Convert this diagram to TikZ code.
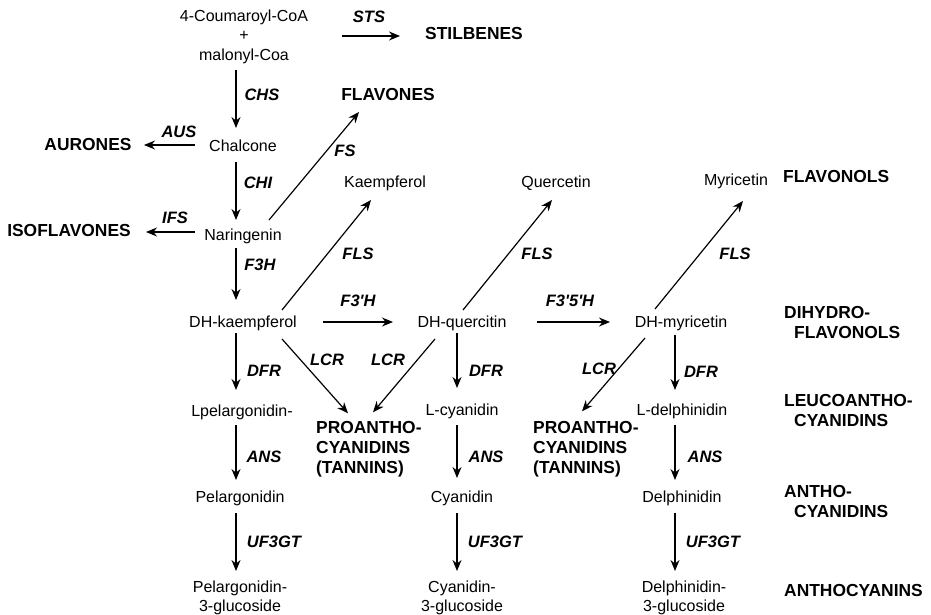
\documentclass[tikz,border=0pt]{standalone}
\usepackage{fontspec}
\setmainfont{Liberation Sans}
\usetikzlibrary{arrows.meta,calc}
\begin{document}
\begin{tikzpicture}[x=1pt,y=-1pt,
  txt/.style={font=\fontsize{16}{19.5}\selectfont, inner sep=0pt, text height=11.5pt, text depth=0pt},
  txtm/.style={font=\fontsize{16}{19.5}\selectfont, inner sep=0pt, align=center},
  cat/.style={font=\fontsize{17.4}{20}\selectfont\bfseries, inner sep=0pt, text height=12.5pt, text depth=0pt},
  catm/.style={font=\fontsize{17.4}{20}\selectfont\bfseries, inner sep=0pt, align=left, anchor=west},
  enz/.style={font=\fontsize{16.5}{19}\selectfont\bfseries\itshape, inner sep=0pt, text height=11.8pt, text depth=0pt},
  arr/.style={-{Stealth[length=11pt,width=9pt]}, line width=1.2pt}]
\useasboundingbox (0,0) rectangle (931,615);
% substances
\node[txtm] (coum) at (244,36.5) {4-Coumaroyl-CoA\\+\\malonyl-Coa};
\node[txt] (chal) at (243,146) {Chalcone};
\node[txt] (nar) at (243,235) {Naringenin};
\node[txt] (kae) at (385,182) {Kaempferol};
\node[txt] (que) at (556,182) {Quercetin};
\node[txt] (myr) at (736,180) {Myricetin};
\node[txt] (dhk) at (243,322) {DH-kaempferol};
\node[txt] (dhq) at (462,322) {DH-quercitin};
\node[txt] (dhm) at (681,322) {DH-myricetin};
\node[txt] (lpel) at (242,411) {Lpelargonidin-};
\node[txt] (lcy) at (462,410) {L-cyanidin};
\node[txt] (ldel) at (682,410) {L-delphinidin};
\node[txt] (pel) at (240,497) {Pelargonidin};
\node[txt] (cya) at (462,497) {Cyanidin};
\node[txt] (del) at (682,497) {Delphinidin};
\node[txtm] (pelg) at (240,598) {Pelargonidin-\\3-glucoside};
\node[txtm] (cyag) at (462,598) {Cyanidin-\\3-glucoside};
\node[txtm] (delg) at (684,598) {Delphinidin-\\3-glucoside};
% classes
\node[cat] (stil) at (474,33) {STILBENES};
\node[cat] (flav) at (388,94) {FLAVONES};
\node[cat] (aur) at (88,144) {AURONES};
\node[cat] (iso) at (69,230) {ISOFLAVONES};
\node[cat, anchor=west] (flavonols) at (783,176) {FLAVONOLS};
\node[catm] (dihydro) at (784,323) {DIHYDRO-\\\hspace*{10pt}FLAVONOLS};
\node[catm] (leuco) at (784,411) {LEUCOANTHO-\\\hspace*{10pt}CYANIDINS};
\node[catm] (antho) at (784,502) {ANTHO-\\\hspace*{10pt}CYANIDINS};
\node[cat, anchor=west] (anthocy) at (784,590) {ANTHOCYANINS};
\node[catm] (pro1) at (316,449.3) {PROANTHO-\\CYANIDINS\\(TANNINS)};
\node[catm] (pro2) at (533,449.3) {PROANTHO-\\CYANIDINS\\(TANNINS)};
% enzymes
\node[enz] (sts) at (369,17) {STS};
\node[enz] (chs) at (262,95) {CHS};
\node[enz] (aus) at (179,132) {AUS};
\node[enz] (chi) at (258,183) {CHI};
\node[enz] (ifs) at (175,218) {IFS};
\node[enz] (f3h) at (260,265) {F3H};
\node[enz] (fs) at (345,151) {FS};
\node[enz] (fls1) at (358,254) {FLS};
\node[enz] (fls2) at (537,254) {FLS};
\node[enz] (fls3) at (735,254) {FLS};
\node[enz] (f3ph) at (358,301) {F3\textquotesingle H};
\node[enz] (f35h) at (570,301) {F3\textquotesingle 5\textquotesingle H};
\node[enz] (lcr1) at (327,360) {LCR};
\node[enz] (lcr2) at (388,360) {LCR};
\node[enz] (lcr3) at (599,369) {LCR};
\node[enz] (dfr1) at (264,371) {DFR};
\node[enz] (dfr2) at (486,371) {DFR};
\node[enz] (dfr3) at (701,372) {DFR};
\node[enz] (ans1) at (264,457) {ANS};
\node[enz] (ans2) at (486,457) {ANS};
\node[enz] (ans3) at (705,457) {ANS};
\node[enz] (uf1) at (274,542) {UF3GT};
\node[enz] (uf2) at (495,542) {UF3GT};
\node[enz] (uf3) at (713,542) {UF3GT};
% connectors
\draw[arr] ($(coum)+(98,-0.5)$) -- ($(stil)+(-74,3)$);
\draw[arr] ($(coum)+(-8,33.5)$) -- ($(chal)+(-7,-18)$);
\draw[arr] ($(chal)+(-48,-1)$) -- ($(aur)+(56,1)$);
\draw[arr] ($(chal)+(-7,16)$) -- ($(nar)+(-7,-15)$);
\draw[arr] ($(nar)+(-48,-3)$) -- ($(iso)+(77,2)$);
\draw[arr] ($(nar)+(-7,13)$) -- ($(dhk)+(-7,-22)$);
\draw[arr] ($(nar)+(26,-15)$) -- ($(flav)+(-29,18)$);
\draw[arr] ($(dhk)+(39,-12)$) -- ($(kae)+(-14,18)$);
\draw[arr] ($(dhq)+(1,-12)$) -- ($(que)+(-4,18)$);
\draw[arr] ($(dhm)+(-26,-13)$) -- ($(myr)+(7,21)$);
\draw[arr] ($(dhk)+(80,0)$) -- ($(dhq)+(-69,0)$);
\draw[arr] ($(dhq)+(75,0)$) -- ($(dhm)+(-71,0)$);
\draw[arr] ($(dhk)+(-7,11)$) -- ($(lpel)+(-6,-21)$);
\draw[arr] ($(dhk)+(39,17)$) -- ($(pro1.west)+(32,-36)$);
\draw[arr] ($(dhq)+(-27,17)$) -- ($(pro1.west)+(57,-37)$);
\draw[arr] ($(dhm)+(-36,16)$) -- ($(pro2.west)+(49,-38)$);
\draw[arr] ($(dhq)+(-5,11)$) -- ($(lcy)+(-5,-22)$);
\draw[arr] ($(dhm)+(-6,13)$) -- ($(ldel)+(-7,-20)$);
\draw[arr] ($(lpel)+(-6,14)$) -- ($(pel)+(-4,-17)$);
\draw[arr] ($(lcy)+(-5,15)$) -- ($(cya)+(-5,-19)$);
\draw[arr] ($(ldel)+(-7,15)$) -- ($(del)+(-7,-17)$);
\draw[arr] ($(pel)+(-4,16)$) -- ($(pelg)+(-4,-27)$);
\draw[arr] ($(cya)+(-5,16)$) -- ($(cyag)+(-5,-27)$);
\draw[arr] ($(del)+(-7,16)$) -- ($(delg)+(-9,-27)$);
\end{tikzpicture}
\end{document}
